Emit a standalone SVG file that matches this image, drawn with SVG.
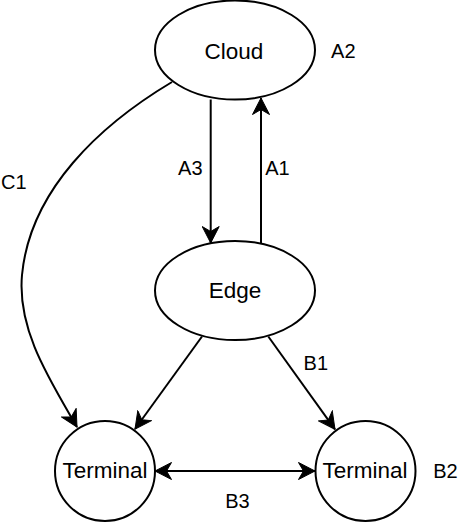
<svg xmlns="http://www.w3.org/2000/svg" width="468" height="524" viewBox="0 0 468 524">
  <defs>
    <marker id="arr" viewBox="0 0 18 18" markerWidth="18" markerHeight="18" refX="17" refY="9" orient="auto" markerUnits="userSpaceOnUse">
      <path d="M0.5,0.5 L17,9 L0.5,17.5 L5.5,9 Z" fill="#000" stroke="#000" stroke-width="1" stroke-linejoin="miter"/>
    </marker>
    <marker id="arrs" viewBox="0 0 18 18" markerWidth="18" markerHeight="18" refX="17" refY="9" orient="auto-start-reverse" markerUnits="userSpaceOnUse">
      <path d="M0.5,0.5 L17,9 L0.5,17.5 L5.5,9 Z" fill="#000" stroke="#000" stroke-width="1" stroke-linejoin="miter"/>
    </marker>
  </defs>
  <style>
    .node { fill: #fff; stroke: #000; stroke-width: 2; }
    .edge { fill: none; stroke: #000; stroke-width: 2; }
    .nl { font-family: "Liberation Sans", Arial, Helvetica, sans-serif; font-size: 22.5px; fill: #000; text-anchor: middle; }
    .el { font-family: "Liberation Sans", Arial, Helvetica, sans-serif; font-size: 20px; fill: #000; text-anchor: middle; }
  </style>
  <g id="connectors">
    <path class="edge" d="M210.7,99.5 L210.7,243" marker-end="url(#arr)"/>
    <path class="edge" d="M261,246 L261,98" marker-end="url(#arr)"/>
    <path class="edge" d="M172,82 C100,125 30,190 22,275 C17,330 50,380 77,427" marker-end="url(#arr)"/>
    <path class="edge" d="M202,336.5 L135,429" marker-end="url(#arr)"/>
    <path class="edge" d="M268.3,336.5 L335,429.3" marker-end="url(#arr)"/>
    <path class="edge" d="M155,471 L315,471" marker-start="url(#arrs)" marker-end="url(#arr)"/>
  </g>
  <g id="cloud">
    <ellipse class="node" cx="235" cy="50" rx="80" ry="49.5"/>
    <text class="nl" x="234" y="58.5">Cloud</text>
  </g>
  <g id="edge">
    <ellipse class="node" cx="235" cy="290.5" rx="80" ry="49.5"/>
    <text class="nl" x="235" y="298.3">Edge</text>
  </g>
  <g id="terminal1">
    <circle class="node" cx="105" cy="471" r="50"/>
    <text class="nl" x="105" y="477.7">Terminal</text>
  </g>
  <g id="terminal2">
    <circle class="node" cx="365.5" cy="471" r="50"/>
    <text class="nl" x="365" y="477.7">Terminal</text>
  </g>
  <g id="labels">
    <text class="el" x="343.3" y="58.3">A2</text>
    <text class="el" x="190.3" y="175">A3</text>
    <text class="el" x="277.5" y="175">A1</text>
    <text class="el" x="13.8" y="189">C1</text>
    <text class="el" x="315.8" y="370">B1</text>
    <text class="el" x="237.5" y="507.7">B3</text>
    <text class="el" x="445.5" y="477.7">B2</text>
  </g>
</svg>
